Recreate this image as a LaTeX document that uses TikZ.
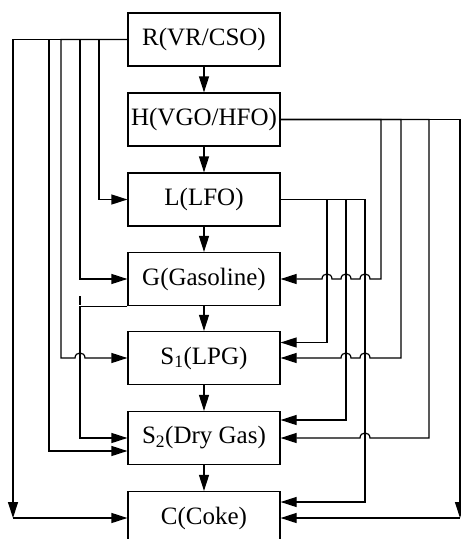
\documentclass[tikz,border=0pt]{standalone}
\usepackage{fontspec}
\setmainfont{Liberation Serif}
\usetikzlibrary{arrows.meta,calc}
\begin{document}
\begin{tikzpicture}[x=1pt,y=-1pt,line width=1.2pt,
  box/.style={draw,minimum width=152pt,minimum height=53pt,inner sep=0pt,font=\fontsize{25}{30}\selectfont},
  arr/.style={-{Triangle[length=16pt,width=10pt]}}]
\clip (0,0) rectangle (461,539);
\node[box] (R) at (204,39.5) {R(VR/CSO)};
\node[box] (H) at (204,119.5) {H(VGO/HFO)};
\node[box] (L) at (204,199.5) {L(LFO)};
\node[box] (G) at (204,279) {G(Gasoline)};
\node[box] (S1) at (204,358) {S\textsubscript{1}(LPG)};
\node[box] (S2) at (204,438) {S\textsubscript{2}(Dry Gas)};
\node[box] (C) at (204,518) {C(Coke)};
\foreach \a/\b in {R/H,H/L,L/G,G/S1,S1/S2,S2/C} \draw[arr] (\a) -- (\b);
% right side from H
\draw[arr] (H.east) -| (381,279) -- (370,279) .. controls (370,272.3) and (360,272.3) .. (360,279) -- (351,279) .. controls (351,272.3) and (341,272.3) .. (341,279) -- (332,279) .. controls (332,272.3) and (322,272.3) .. (322,279) -- (G.east);
\draw[arr] (H.east) -| (401,358) -- (370,358) .. controls (370,351.3) and (360,351.3) .. (360,358) -- (351,358) .. controls (351,351.3) and (341,351.3) .. (341,358) -- (S1.east);
\draw[arr] (H.east) -| (429,438) -- (370,438) .. controls (370,431.3) and (360,431.3) .. (360,438) -- (S2.east);
\coordinate (cr) at (460,518);
\draw[arr] (H.east) -| (cr);
\draw[arr] (cr) -- (C.east);
% right side from L
\draw[arr] (L.east) -| (327,342.5) -- (S1.east |- 0,342.5);
\draw[arr] (L.east) -| (346,420) -- (S2.east |- 0,420);
\draw[arr] (L.east) -| (365,502) -- (C.east |- 0,502);
% left side from R
\draw[arr] (R.west) -| (99,199.5) -- (L.west);
\draw[arr] (R.west) -| (80,279) -- (G.west);
\draw[arr] (R.west) -| (61,358) -- (75,358) .. controls (75,351.3) and (85,351.3) .. (85,358) -- (S1.west);
\draw[arr] (R.west) -| (49,451) -- (S2.west |- 0,451);
\coordinate (cl) at (13,518);
\draw[arr] (R.west) -| (cl);
\draw[arr] (cl) -- (C.west);
% from G to S2
\draw[arr] (G.south west) -| (80,438) -- (S2.west);
\draw (80,296) -- (80,305);
\end{tikzpicture}
\end{document}
